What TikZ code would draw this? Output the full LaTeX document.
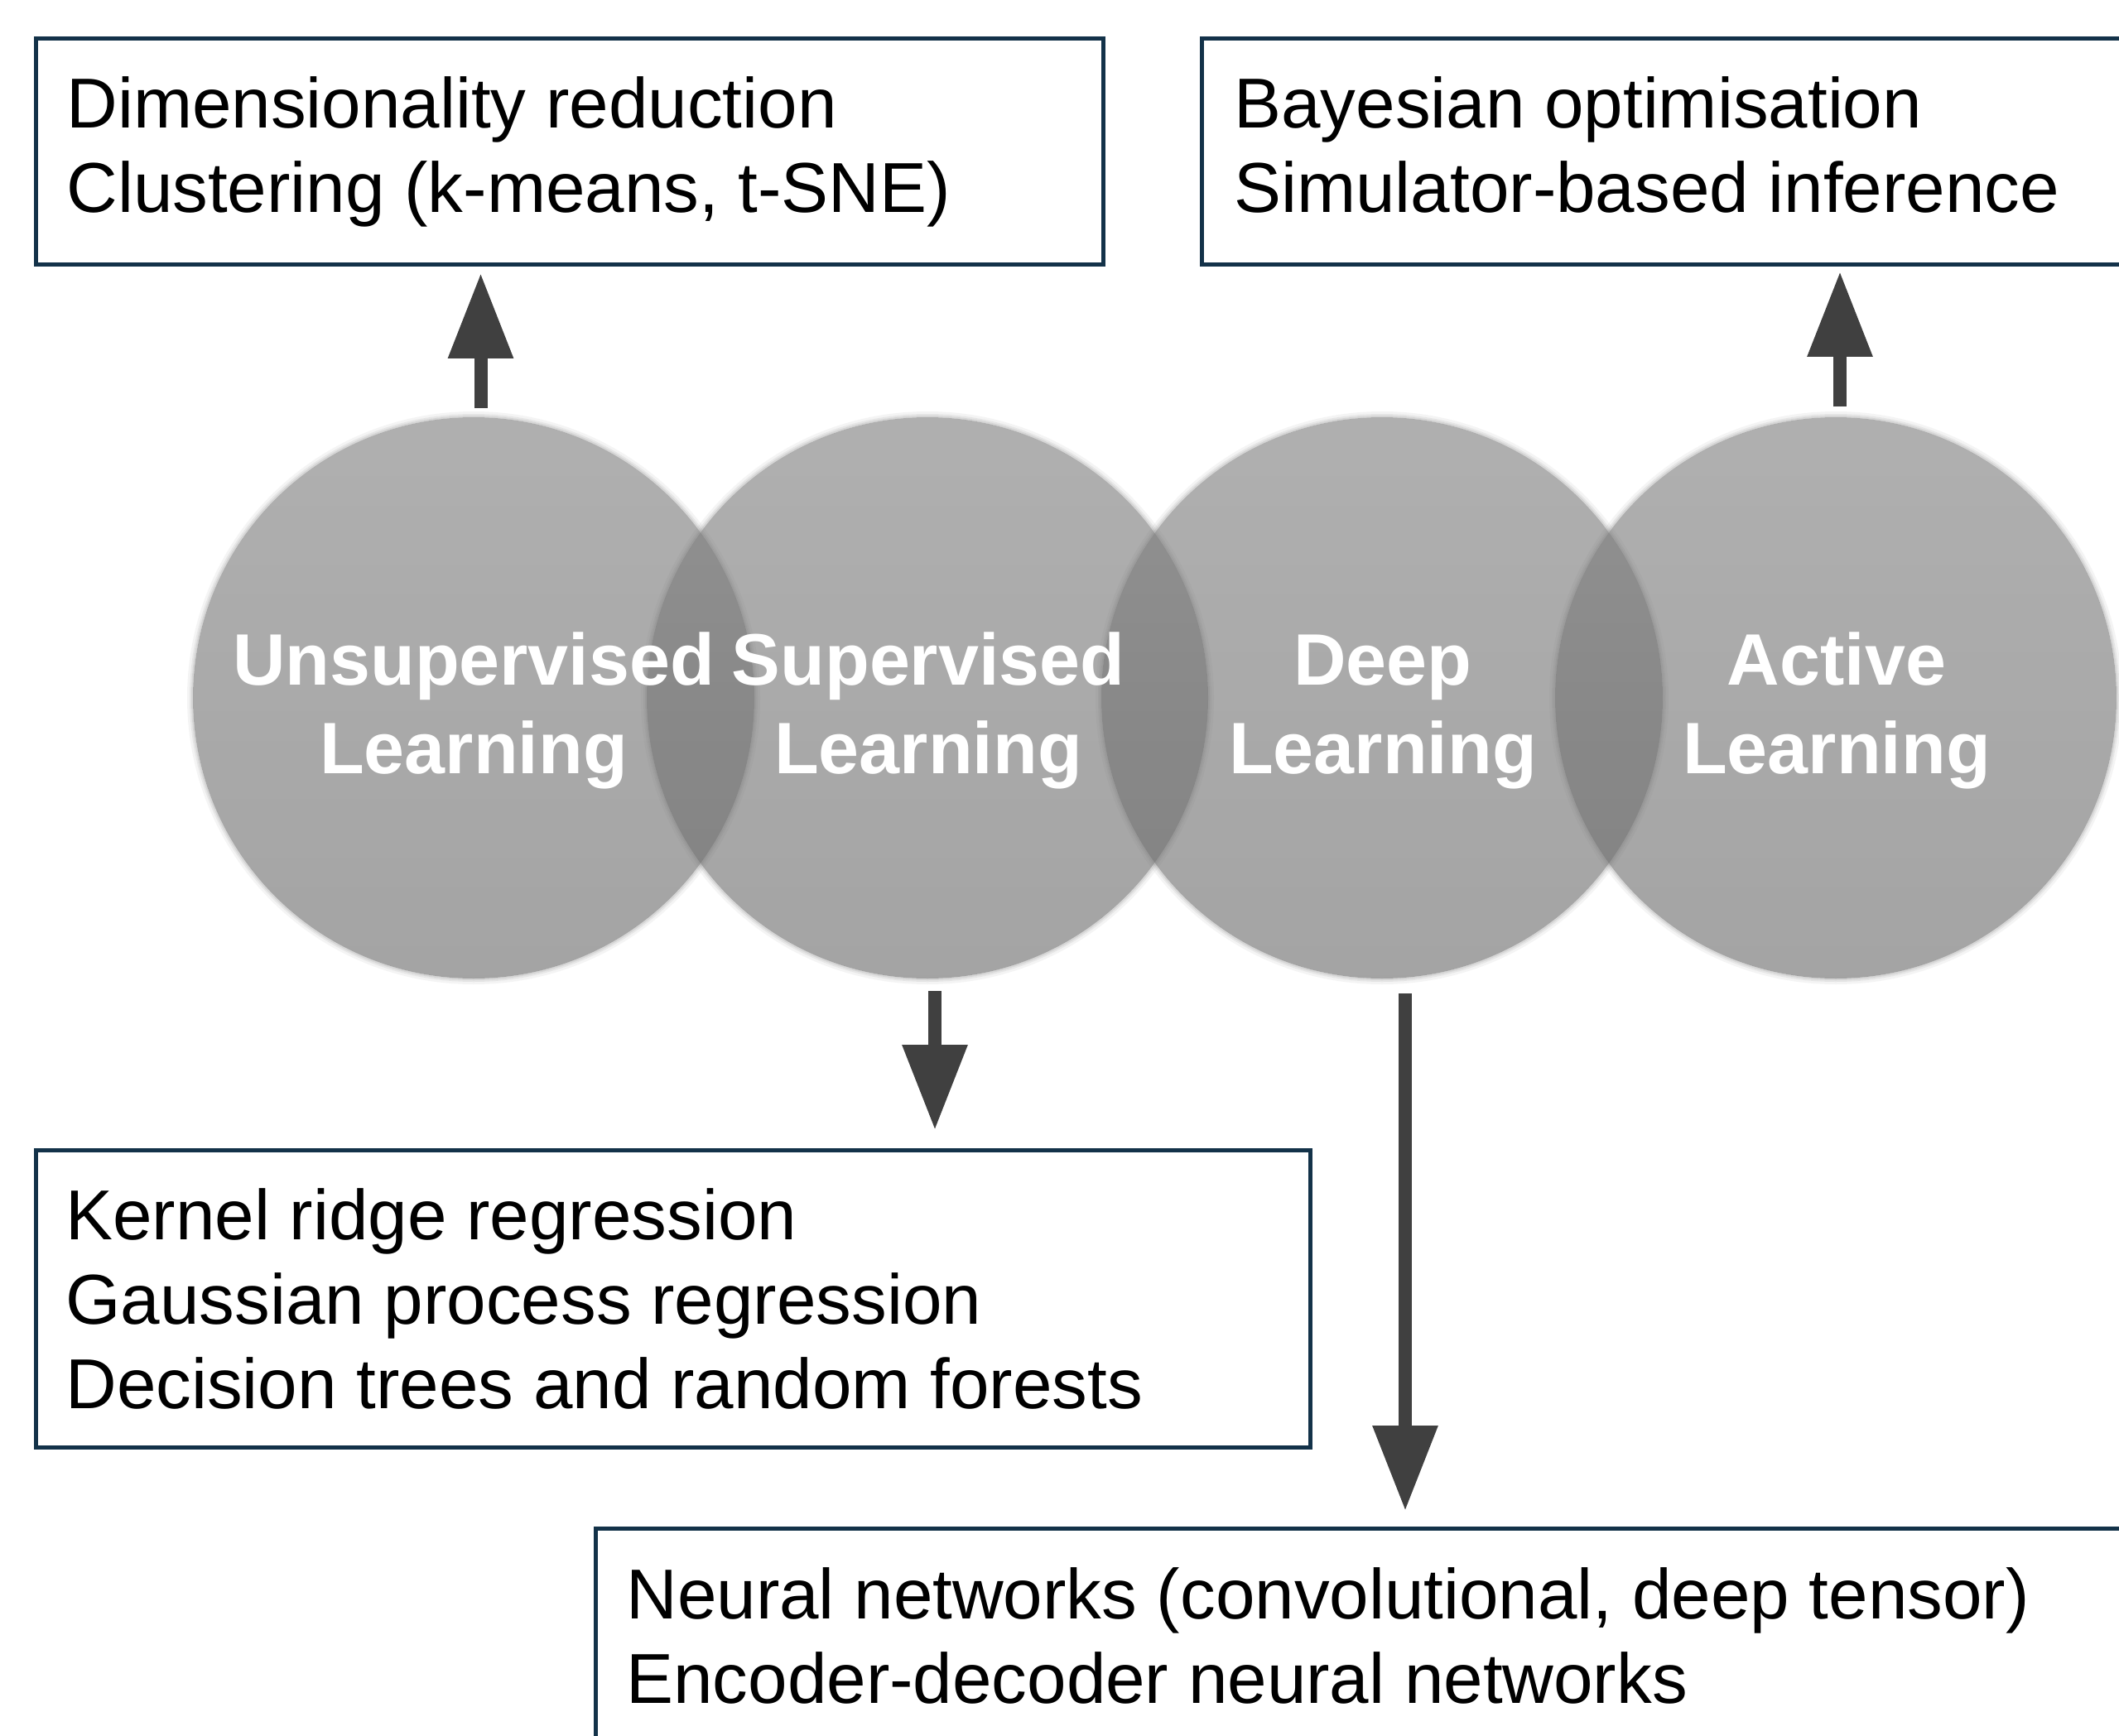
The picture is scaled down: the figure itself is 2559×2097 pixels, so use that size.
\documentclass[tikz,border=0pt]{standalone}
\usepackage{fontspec}
\setmainfont{Liberation Sans}
\usetikzlibrary{arrows.meta,calc}

\definecolor{boxline}{HTML}{133249}
\definecolor{arrowgray}{HTML}{404040}
\definecolor{disctop}{gray}{0.50}
\definecolor{discbottom}{gray}{0.425}
\definecolor{discedge}{gray}{0.47}

\tikzset{
  % one unit = one pixel of the 2559 x 2097 canvas, y grows downwards
  disc/.style={circle, inner sep=0pt, outer sep=0pt, minimum size=339pt,
    top color=disctop, bottom color=discbottom, fill opacity=0.62, draw=none},
  disctext/.style={inner sep=0pt, text=white,
    font=\fontsize{44}{53.5}\selectfont\bfseries},
  infobox/.style={rectangle, draw=boxline, line width=2.5pt, fill=none,
    inner sep=0pt, anchor=north west},
  boxtext/.style={inner sep=0pt, anchor=base west, text=black,
    font=\fontsize{42.7}{51}\selectfont},
  bigarrow/.style={draw=arrowgray, line width=8pt,
    -{Triangle[length=51.5pt, width=37.5pt]}, fill=arrowgray},
}

\begin{document}
\begin{tikzpicture}[x=0.5pt, y=-0.5pt]
  \useasboundingbox (0,0) rectangle (2559,2097);
  \clip (0,0) rectangle (2559,2097);
  \fill[white] (0,0) rectangle (2559,2097);

  % overlapping learning paradigms, with a soft rim
  \foreach \cx/\name in {572/u, 1120/s, 1669/d, 2217/a}{
    \fill[discedge, opacity=0.30, even odd rule]
      (\cx,843) circle[radius=170.5pt] circle[radius=169.5pt];
    \fill[discedge, opacity=0.18, even odd rule]
      (\cx,843) circle[radius=171.5pt] circle[radius=170.5pt];
    \fill[discedge, opacity=0.08, even odd rule]
      (\cx,843) circle[radius=173pt] circle[radius=171.5pt];
    \node[disc] (\name) at (\cx,843) {};
  }

  \node[disctext, anchor=base] (u-t) at ($(u.center)+(0,-16)$)
    {\begin{tabular}[t]{@{}c@{}}Unsupervised\\Learning\end{tabular}};
  \node[disctext, anchor=base] (s-t) at ($(s.center)+(1,-16)$)
    {\begin{tabular}[t]{@{}c@{}}Supervised\\Learning\end{tabular}};
  \node[disctext, anchor=base] (d-t) at ($(d.center)+(1,-16)$)
    {\begin{tabular}[t]{@{}c@{}}Deep\\Learning\end{tabular}};
  \node[disctext, anchor=base] (a-t) at ($(a.center)+(1,-16)$)
    {\begin{tabular}[t]{@{}c@{}}Active\\Learning\end{tabular}};

  % method boxes
  \node[infobox, minimum width=644.5pt, minimum height=136.5pt] (ub) at (41,44) {};
  \node[boxtext] (ub-t) at (80,155)
    {\begin{tabular}[t]{@{}l@{}}Dimensionality reduction\\Clustering (k-means, t-SNE)\end{tabular}};

  \node[infobox, minimum width=625pt, minimum height=136.5pt] (ab) at (1449,44) {};
  \node[boxtext] (ab-t) at (1490,155)
    {\begin{tabular}[t]{@{}l@{}}Bayesian optimisation\\Simulator-based inference\end{tabular}};

  \node[infobox, minimum width=769.5pt, minimum height=179.5pt] (sb) at (41,1387) {};
  \node[boxtext] (sb-t) at (79,1497)
    {\begin{tabular}[t]{@{}l@{}}Kernel ridge regression\\Gaussian process regression\\Decision trees and random forests\end{tabular}};

  \node[infobox, minimum width=1000pt, minimum height=220pt] (db) at (717,1844) {};
  \node[boxtext] (db-t) at (756,1955)
    {\begin{tabular}[t]{@{}l@{}}Neural networks (convolutional, deep tensor)\\Encoder-decoder neural networks\end{tabular}};

  % arrows from the paradigms to their methods
  \coordinate (u-out) at ($(u.north)+(8.5,-11)$);
  \coordinate (ub-in) at ($(u-out |- ub.south)+(0,8)$);
  \draw[bigarrow] (u-out) -- (ub-in);

  \coordinate (a-out) at ($(a.north)+(5,-13)$);
  \coordinate (ab-in) at ($(a-out |- ab.south)+(0,6)$);
  \draw[bigarrow] (a-out) -- (ab-in);

  \coordinate (s-out) at ($(s.south)+(9,15)$);
  \coordinate (sb-in) at ($(s-out |- sb.north)+(0,-22)$);
  \draw[bigarrow] (s-out) -- (sb-in);

  \coordinate (d-out) at ($(d.south)+(28,18)$);
  \coordinate (db-in) at ($(d-out |- db.north)+(0,-19)$);
  \draw[bigarrow] (d-out) -- (db-in);
\end{tikzpicture}
\end{document}
